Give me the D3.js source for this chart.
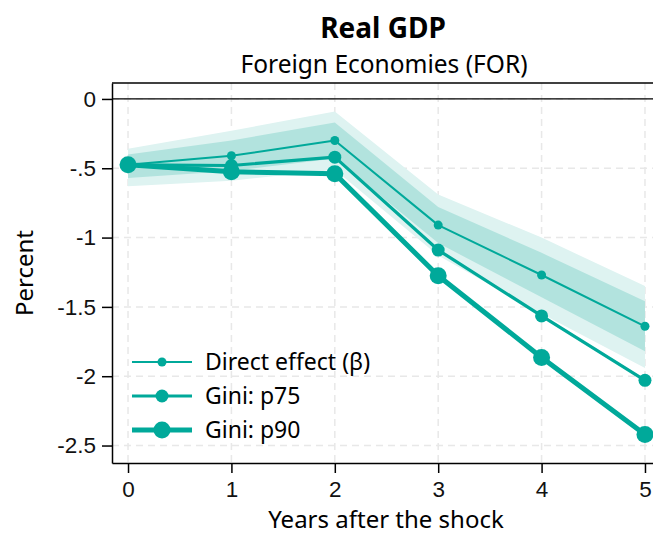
<!DOCTYPE html>
<html>
<head>
<meta charset="utf-8">
<script src="https://cdn.jsdelivr.net/npm/d3@7"></script>
<style>
  body { margin: 0; background: #fff; }
  svg { display: block; font-family: "Noto Sans", "Open Sans", sans-serif; }
  .grid line { stroke: #e8e8e8; stroke-width: 1.5; stroke-dasharray: 7 5; }
  .axis path, .axis line { stroke: #000; stroke-width: 1.5; }
</style>
</head>
<body>
<script>
(function(){

//chart values
var years = [0, 1, 2, 3, 4, 5];
var directEffect = [-0.475, -0.41, -0.30, -0.91, -1.27, -1.64];
var giniP75 = [-0.475, -0.48, -0.42, -1.09, -1.565, -2.03];
var giniP90 = [-0.475, -0.525, -0.54, -1.275, -1.865, -2.42];
//confidence bands around the direct effect
var innerLow = [-0.57, -0.52, -0.43, -1.04, -1.43, -1.82];
var innerHigh = [-0.40, -0.30, -0.17, -0.78, -1.11, -1.46];
var outerLow = [-0.63, -0.59, -0.51, -1.13, -1.55, -1.94];
var outerHigh = [-0.36, -0.23, -0.09, -0.69, -1.00, -1.35];
var yTicks = [0, -0.5, -1, -1.5, -2, -2.5];
var yTickLabels = ["0", "-.5", "-1", "-1.5", "-2", "-2.5"];
var legendLabels = ["Direct effect (\u03b2)", "Gini: p75", "Gini: p90"];

var teal = "#00a99a";

var width = 653, height = 536;
var margin = {left: 112, top: 83, right: -8, bottom: 73};

var svg = d3.select("body").append("svg")
    .attr("width", width)
    .attr("height", height);

var x = d3.scaleLinear()
    .domain([-0.155, 5.155])
    .range([margin.left, width - margin.right]);

var y = d3.scaleLinear()
    .domain([-2.626, 0.115])
    .range([height - margin.bottom, margin.top]);

//dashed grid
svg.append("g").attr("class", "grid")
    .selectAll("line").data(years).enter().append("line")
    .attr("x1", function(d){ return x(d); })
    .attr("x2", function(d){ return x(d); })
    .attr("y1", y.range()[1])
    .attr("y2", y.range()[0]);

svg.append("g").attr("class", "grid")
    .selectAll("line").data(yTicks).enter().append("line")
    .attr("x1", x.range()[0])
    .attr("x2", x.range()[1])
    .attr("y1", function(d){ return y(d); })
    .attr("y2", function(d){ return y(d); });

//bands
var band = function(lo, hi){
    return d3.area()
        .x(function(d, i){ return x(years[i]); })
        .y0(function(d, i){ return y(lo[i]); })
        .y1(function(d, i){ return y(hi[i]); })(years);
};
svg.append("path").attr("d", band(outerLow, outerHigh)).attr("fill", "#def3f1");
svg.append("path").attr("d", band(innerLow, innerHigh)).attr("fill", "#b2e3de");

//zero line
svg.append("line")
    .attr("x1", x.range()[0]).attr("x2", x.range()[1])
    .attr("y1", y(0)).attr("y2", y(0))
    .attr("stroke", "#000").attr("stroke-width", 1.2);

//series
var series = [
    {name: legendLabels[0], values: directEffect, lw: 2, r: 4.5},
    {name: legendLabels[1], values: giniP75, lw: 3.2, r: 6.5},
    {name: legendLabels[2], values: giniP90, lw: 5, r: 8.5}
];

var line = d3.line()
    .x(function(d, i){ return x(years[i]); })
    .y(function(d){ return y(d); });

series.forEach(function(s){
    svg.append("path")
        .attr("d", line(s.values))
        .attr("fill", "none")
        .attr("stroke", teal)
        .attr("stroke-width", s.lw)
        .attr("stroke-linejoin", "round");
    svg.selectAll(null).data(s.values).enter().append("circle")
        .attr("cx", function(d, i){ return x(years[i]); })
        .attr("cy", function(d){ return y(d); })
        .attr("r", s.r)
        .attr("fill", teal);
});

//axes
var yAxis = d3.axisLeft(y)
    .tickValues(yTicks)
    .tickFormat(function(d, i){ return yTickLabels[i]; })
    .tickSize(10)
    .tickPadding(6)
    .tickSizeOuter(0);
svg.append("g").attr("class", "axis")
    .attr("transform", "translate(" + margin.left + ",0)")
    .call(yAxis)
    .selectAll("text").style("font-size", "22.5px").style("fill", "#111");

var xAxis = d3.axisBottom(x)
    .tickValues(years)
    .tickFormat(d3.format("d"))
    .tickSize(10)
    .tickPadding(8)
    .tickSizeOuter(0);
svg.append("g").attr("class", "axis")
    .attr("transform", "translate(0," + (height - margin.bottom) + ")")
    .call(xAxis)
    .selectAll("text").style("font-size", "22.5px").style("fill", "#111");

//top frame line
svg.append("line")
    .attr("x1", x.range()[0]).attr("x2", x.range()[1])
    .attr("y1", margin.top).attr("y2", margin.top)
    .attr("stroke", "#000").attr("stroke-width", 1.5);

//titles
svg.append("text")
    .attr("x", 383).attr("y", 38)
    .attr("text-anchor", "middle")
    .style("font-size", "28px").style("font-weight", "bold")
    .text("Real GDP");
svg.append("text")
    .attr("x", 384).attr("y", 73)
    .attr("text-anchor", "middle")
    .style("font-size", "24.5px")
    .text("Foreign Economies (FOR)");
svg.append("text")
    .attr("transform", "translate(33,273) rotate(-90)")
    .attr("text-anchor", "middle")
    .style("font-size", "24px")
    .text("Percent");
svg.append("text")
    .attr("x", 386).attr("y", 528)
    .attr("text-anchor", "middle")
    .style("font-size", "24px")
    .text("Years after the shock");

//legend
var legend = svg.append("g").attr("transform", "translate(132,362)");
series.forEach(function(s, i){
    var g = legend.append("g").attr("transform", "translate(0," + (i * 34) + ")");
    g.append("line").attr("x1", 0).attr("x2", 60).attr("y1", 0).attr("y2", 0)
        .attr("stroke", teal).attr("stroke-width", s.lw);
    g.append("circle").attr("cx", 30).attr("cy", 0).attr("r", s.r).attr("fill", teal);
    g.append("text").attr("x", 73).attr("y", 0).attr("dy", "0.35em")
        .style("font-size", "23px").text(s.name);
});

})();
</script>
</body>
</html>
